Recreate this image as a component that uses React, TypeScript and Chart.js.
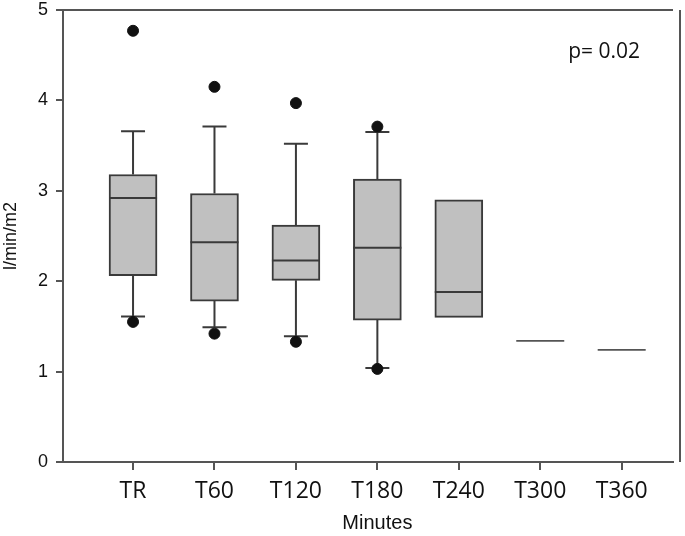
import React, { useEffect, useRef } from "react";
import { Chart, registerables } from "chart.js";

Chart.register(...registerables);

const categories = ["TR", "T60", "T120", "T180", "T240", "T300", "T360"];
const q1 = [2.06, 1.78, 2.01, 1.57, 1.6, 1.34, 1.24];
const q3 = [3.18, 2.97, 2.62, 3.13, 2.9, 1.34, 1.24];
const medians = [2.92, 2.43, 2.23, 2.37, 1.88, 1.34, 1.24];
const whiskerLow = [1.61, 1.49, 1.39, 1.04, null, null, null];
const whiskerHigh = [3.66, 3.71, 3.52, 3.65, null, null, null];
const outlierCategory = [0, 0, 1, 1, 2, 2, 3, 3];
const outlierValues = [4.77, 1.55, 4.15, 1.42, 3.97, 1.33, 3.71, 1.03];
const yTicks = [0, 1, 2, 3, 4, 5];
const pLabel = "p= 0.02";
const xTitle = "Minutes";
const yTitle = "l/min/m2";

const LINE = "#3a3a3a";
const AXIS = "#555555";

const boxPlugin = {
  id: "boxExtras",
  beforeDatasetsDraw(chart: any) {
    const { ctx, scales } = chart;
    const x = scales.x;
    const y = scales.y;
    ctx.save();
    ctx.strokeStyle = LINE;
    ctx.lineWidth = 2;
    categories.forEach((_, i) => {
      const px = x.getPixelForValue(i);
      const cap = 12;
      const hi = whiskerHigh[i];
      const lo = whiskerLow[i];
      if (hi != null) {
        ctx.beginPath();
        ctx.moveTo(px, y.getPixelForValue(q3[i]));
        ctx.lineTo(px, y.getPixelForValue(hi));
        ctx.moveTo(px - cap, y.getPixelForValue(hi));
        ctx.lineTo(px + cap, y.getPixelForValue(hi));
        ctx.stroke();
      }
      if (lo != null) {
        ctx.beginPath();
        ctx.moveTo(px, y.getPixelForValue(q1[i]));
        ctx.lineTo(px, y.getPixelForValue(lo));
        ctx.moveTo(px - cap, y.getPixelForValue(lo));
        ctx.lineTo(px + cap, y.getPixelForValue(lo));
        ctx.stroke();
      }
    });
    ctx.restore();
  },
  afterDatasetsDraw(chart: any) {
    const { ctx, scales, chartArea } = chart;
    const x = scales.x;
    const y = scales.y;
    ctx.save();
    categories.forEach((_, i) => {
      const px = x.getPixelForValue(i);
      const py = y.getPixelForValue(medians[i]);
      const flat = q1[i] === q3[i];
      ctx.strokeStyle = flat ? "#555" : LINE;
      ctx.lineWidth = flat ? 1.6 : 2;
      ctx.beginPath();
      ctx.moveTo(px - 24, py);
      ctx.lineTo(px + 24, py);
      ctx.stroke();
    });
    // frame lines (top and right)
    ctx.strokeStyle = AXIS;
    ctx.lineWidth = 2;
    ctx.beginPath();
    ctx.moveTo(chartArea.left - 6, chartArea.top);
    ctx.lineTo(chartArea.right, chartArea.top);
    ctx.moveTo(chartArea.right + 7, chartArea.top);
    ctx.lineTo(chartArea.right + 7, chartArea.bottom);
    ctx.stroke();
    // p-value
    ctx.fillStyle = "#111";
    ctx.font = "21px 'Open Sans'";
    ctx.textAlign = "right";
    ctx.textBaseline = "alphabetic";
    ctx.fillText(pLabel, chartArea.right - 33, chartArea.top + 48);
    // x title
    ctx.font = "20px 'Liberation Sans'";
    ctx.textAlign = "center";
    ctx.textBaseline = "middle";
    ctx.fillText(xTitle, x.getPixelForValue(3), chartArea.bottom + 61);
    ctx.restore();
  },
};

export default function App() {
  const ref = useRef<HTMLCanvasElement>(null);
  useEffect(() => {
    document.body.style.margin = "0";
    const canvas = ref.current!;
    const chart = new Chart(canvas, {
      type: "bar",
      data: {
        datasets: [
          {
            type: "scatter",
            data: outlierValues.map((v, k) => ({ x: outlierCategory[k], y: v })),
            backgroundColor: "#111",
            borderColor: "#111",
            pointRadius: 5.5,
            pointHoverRadius: 5.5,
            order: 0,
          } as any,
          {
            type: "bar",
            data: categories.map((_, i) => ({ x: i, y: [q1[i], q3[i]] })),
            backgroundColor: "#c0c0c0",
            borderColor: LINE,
            borderWidth: 2,
            borderSkipped: false,
            barThickness: 48,
            order: 1,
          } as any,
        ],
      },
      options: {
        responsive: false,
        animation: false,
        layout: { padding: { top: 10, right: 12, left: 0, bottom: 0 } },
        plugins: { legend: { display: false }, tooltip: { enabled: false } },
        scales: {
          x: {
            type: "linear",
            min: -0.86,
            max: 6.63,
            offset: false,
            afterBuildTicks: (s: any) => {
              s.ticks = categories.map((_, i) => ({ value: i }));
            },
            afterFit: (s: any) => {
              s.height = 74;
              s.paddingLeft = 0;
              s.paddingRight = 0;
            },
            ticks: {
              autoSkip: false,
              maxRotation: 0,
              padding: 8,
              color: "#111",
              font: { family: "'Open Sans'", size: 23 },
              callback: (v: any) => categories[v] ?? "",
            },
            grid: {
              display: true,
              offset: false,
              drawOnChartArea: false,
              drawTicks: true,
              tickLength: 8,
              color: AXIS,
              lineWidth: 2,
            },
            border: { display: true, color: AXIS, width: 2 },
          },
          y: {
            type: "linear",
            min: 0,
            max: 5,
            afterBuildTicks: (s: any) => {
              s.ticks = yTicks.map((v) => ({ value: v }));
            },
            afterFit: (s: any) => {
              s.width = 63;
              s.paddingTop = 0;
              s.paddingBottom = 0;
            },
            ticks: {
              padding: 8,
              color: "#111",
              font: { family: "'Liberation Sans'", size: 18 },
            },
            grid: {
              display: true,
              drawOnChartArea: false,
              drawTicks: true,
              tickLength: 7,
              color: AXIS,
              lineWidth: 2,
            },
            border: { display: true, color: AXIS, width: 2 },
            title: {
              display: true,
              text: yTitle,
              color: "#111",
              font: { family: "'Liberation Sans'", size: 18 },
              padding: { top: 0, bottom: 0 },
            },
          },
        },
      },
      plugins: [boxPlugin],
    });
    return () => chart.destroy();
  }, []);
  return (
    <canvas
      ref={ref}
      width={685}
      height={536}
      style={{ display: "block", width: 685, height: 536 }}
    />
  );
}
